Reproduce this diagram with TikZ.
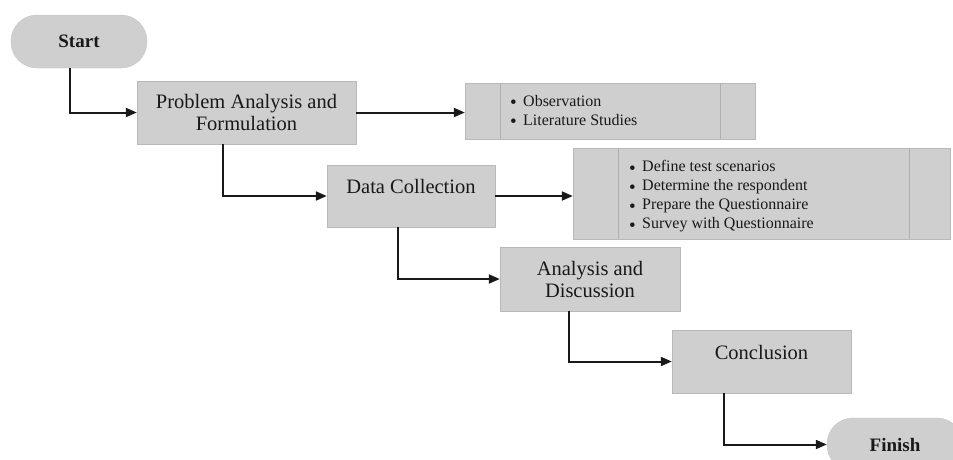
\documentclass[tikz,border=0pt]{standalone}
\usepackage{fontspec}
\setmainfont{Liberation Serif}
\usetikzlibrary{arrows.meta,calc}
\newcommand{\bul}[1]{\makebox[13pt][l]{\raisebox{-2.5pt}{\fontsize{19}{19}\selectfont\textbullet}}#1}

\begin{document}
\begin{tikzpicture}[
    x=1pt, y=-1pt,
    % steps of the main flow
    process/.style={
        rectangle,
        draw=gray!55,
        fill=gray!38,
        inner sep=0pt,
        align=center,
        text=black!90,
        font=\fontsize{20.5}{22}\selectfont,
        },
    terminal/.style={
        rectangle,
        rounded corners=26pt,
        draw=gray!45,
        fill=gray!38,
        minimum width=136pt,
        minimum height=53pt,
        text=black!90,
        font=\bfseries\fontsize{19}{22}\selectfont,
        },
    notebox/.style={process},
    notelist/.style={anchor=west, inner sep=0pt, align=left,
        text=black!90, font=\fontsize{16}{19}\selectfont},
    divider/.style={draw=gray!62, line width=0.6pt},
    flow/.style={draw=black!90, line width=2pt,
        -{Triangle[length=11pt,width=9pt]}},
    ]
    \fill[white] (0,0) rectangle (953,459);
    \path[use as bounding box, clip] (0,0) rectangle (953,459);

    \node [terminal] (start) at (79,41.5) {Start};
    \node [process, minimum width=219pt, minimum height=63pt] (prob) at (246.5,112.5)
        {Problem Analysis and\\Formulation};
    \node [process, minimum width=168pt, minimum height=62pt] (data) at (411,196)
        {Data Collection\\[-3pt]\mbox{}};
    \node [process, minimum width=180pt, minimum height=64pt] (ana) at (590,279)
        {Analysis and\\Discussion};
    \node [process, minimum width=179pt, minimum height=63pt] (conc) at (761.5,361.5)
        {Conclusion\\[-4pt]\mbox{}};
    \node [terminal] (fin) at (895,444.5) {Finish};

    % side notes with their bullet lists
    \node [notebox, minimum width=290pt, minimum height=56pt] (obs) at (610,111) {};
    \draw [divider] ($(obs.north west)+(35,0)$) -- ($(obs.south west)+(35,0)$);
    \draw [divider] ($(obs.north east)+(-35,0)$) -- ($(obs.south east)+(-35,0)$);
    \node [notelist] (obslist) at (510,111.5)
        {\bul{Observation}\\\bul{Literature Studies}};

    \node [notebox, minimum width=377pt, minimum height=91pt] (def) at (761.5,193.5) {};
    \draw [divider] ($(def.north west)+(45,0)$) -- ($(def.south west)+(45,0)$);
    \draw [divider] ($(def.north east)+(-41,0)$) -- ($(def.south east)+(-41,0)$);
    \node [notelist] (deflist) at (629,196.5)
        {\bul{Define test scenarios}\\\bul{Determine the respondent}\\
         \bul{Prepare the Questionnaire}\\\bul{Survey with Questionnaire}};

    % connectors
    \draw [flow] ($(start.south)+(-9,0)$) |- (prob.west);
    \draw [flow] (prob.east) -- (prob.east -| obs.west);
    \draw [flow] ($(prob.south)+(-23.5,0)$) |- (data.west);
    \draw [flow] (data.east) -- (data.east -| def.west);
    \draw [flow] ($(data.south)+(-13,0)$) |- (ana.west);
    \draw [flow] ($(ana.south)+(-21,0)$) |- (conc.west);
    \draw [flow] ($(conc.south)+(-37.5,0)$) |- (fin.west);
\end{tikzpicture}
\end{document}
